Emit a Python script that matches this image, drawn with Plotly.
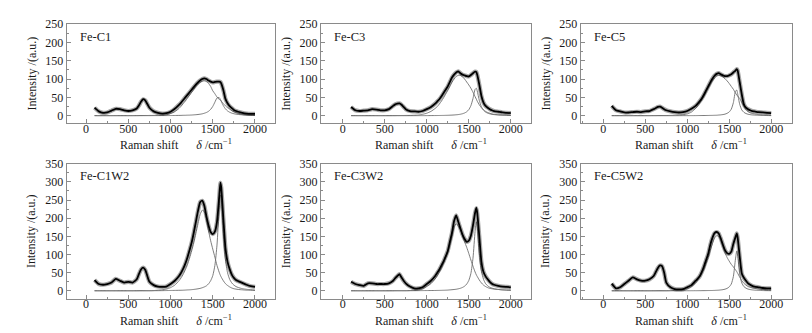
import plotly.graph_objects as go

# ---------------- data ----------------
raman_shift = [100, 150, 200, 250, 300, 350, 400, 450, 500, 550, 600,
               625, 650, 675, 700, 725, 750,
               800, 850, 900, 950, 1000, 1050, 1100,
               1125, 1150, 1175, 1200, 1225, 1250, 1275, 1300,
               1325, 1350, 1375, 1400, 1425, 1450, 1475, 1500,
               1525, 1550, 1575, 1590, 1600,
               1625, 1650, 1675, 1700, 1725, 1750, 1775, 1800,
               1850, 1900, 1950, 2000]

sample_names = ["Fe-C1", "Fe-C3", "Fe-C5", "Fe-C1W2", "Fe-C3W2", "Fe-C5W2"]

# measured spectra
fe_c1_spectrum = [22, 12, 8, 9, 14, 19, 18, 15, 13, 15, 20,
                  28, 38, 45, 42, 32, 22,
                  12, 8, 6, 7, 11, 19, 30,
                  36, 43, 50, 57, 64, 71, 78, 85,
                  91, 96, 100, 102, 100, 96, 93, 91,
                  92, 93, 93, 92, 88,
                  70, 46, 34, 26, 21, 16, 13, 11,
                  8, 6, 5, 5]
fe_c3_spectrum = [24, 15, 13, 14, 15, 18, 17, 15, 15, 18, 27,
                  31, 33, 34, 30, 24, 18,
                  13, 12, 11, 13, 18, 24, 33,
                  39, 45, 53, 62, 71, 80, 92, 104,
                  112, 118, 121, 116, 112, 110, 108, 107,
                  111, 116, 120, 119, 112,
                  85, 54, 36, 27, 22, 18, 15, 13,
                  11, 9, 8, 7]
fe_c5_spectrum = [27, 15, 12, 9, 9, 10, 11, 10, 12, 13, 18,
                  21, 24, 25, 22, 18, 15,
                  12, 10, 9, 10, 13, 19, 27,
                  33, 40, 48, 58, 69, 80, 91, 101,
                  109, 114, 116, 113, 110, 108, 108, 110,
                  113, 118, 123, 127, 124,
                  92, 58, 31, 22, 18, 15, 13, 12,
                  10, 9, 8, 7]
fe_c1w2_spectrum = [30, 19, 17, 19, 23, 33, 28, 23, 25, 23, 32,
                    46, 59, 64, 58, 41, 25,
                    16, 12, 11, 12, 19, 28, 41,
                    50, 61, 75, 92, 112, 133, 160, 190,
                    220, 244, 248, 234, 205, 180, 162, 156,
                    163, 190, 255, 298, 285,
                    200, 118, 80, 60, 45, 36, 30, 27,
                    22, 17, 13, 11]
fe_c3w2_spectrum = [25, 19, 16, 14, 21, 21, 19, 19, 19, 21, 28,
                    35, 41, 46, 37, 28, 21,
                    12, 7, 7, 10, 19, 28, 41,
                    50, 59, 70, 81, 95, 110, 135, 160,
                    192, 208, 190, 172, 155, 143, 135, 138,
                    152, 180, 215, 228, 215,
                    150, 80, 52, 40, 32, 25, 20, 17,
                    14, 12, 11, 10]
fe_c5w2_spectrum = [20, 7, 10, 19, 28, 37, 32, 28, 28, 32, 41,
                    52, 63, 70, 68, 50, 23,
                    10, 5, 4, 5, 10, 16, 28,
                    34, 41, 53, 68, 85, 102, 127, 146,
                    159, 162, 158, 144, 127, 112, 104, 102,
                    108, 130, 148, 158, 148,
                    95, 48, 36, 28, 21, 17, 14, 12,
                    10, 8, 7, 7]

# fitted D band components
fe_c1_d_fit = [0.5, 0.5, 0.5, 0.5, 0.5, 0.5, 0.5, 0.5, 0.5, 0.5, 0.6,
               0.6, 0.7, 0.7, 0.8, 0.8, 0.9,
               1, 1.5, 2, 3, 6, 11, 20,
               26, 33, 40, 48, 56, 64, 72, 80,
               86, 91, 94, 95, 93, 88, 80, 68,
               60, 51, 45, 43, 40,
               33, 27, 22, 18, 14, 11, 9, 7,
               5, 3, 2, 1.5]
fe_c3_d_fit = [0.5, 0.5, 0.5, 0.5, 0.5, 0.5, 0.5, 0.5, 0.5, 0.5, 0.6,
               0.6, 0.7, 0.7, 0.8, 0.8, 0.9,
               1, 1.5, 2, 4, 7, 12, 20,
               25, 32, 40, 49, 59, 69, 80, 91,
               100, 107, 110, 110, 106, 100, 92, 84,
               75, 64, 52, 45, 40,
               30, 22, 16, 12, 9, 7, 5, 4,
               3, 2, 1.5, 1]
fe_c5_d_fit = [0.5, 0.5, 0.5, 0.5, 0.5, 0.5, 0.5, 0.5, 0.5, 0.5, 0.6,
               0.6, 0.7, 0.7, 0.7, 0.7, 0.7,
               1, 1.5, 2, 3, 5, 10, 20,
               27, 35, 44, 53, 64, 75, 85, 95,
               103, 108, 110, 109, 106, 101, 95, 88,
               80, 72, 62, 57, 54,
               47, 36, 26, 17, 11, 8, 6, 5,
               3, 2, 1.5, 1]
fe_c1w2_d_fit = [0.5, 0.5, 0.5, 0.5, 0.5, 0.5, 0.5, 0.5, 0.5, 0.5, 0.6,
                 0.6, 0.7, 0.7, 0.7, 0.7, 0.7,
                 1, 2, 3, 5, 9, 16, 28,
                 36, 46, 58, 72, 90, 110, 132, 158,
                 185, 210, 222, 218, 195, 165, 138, 115,
                 93, 70, 52, 43, 38,
                 28, 20, 15, 11, 8, 6, 5, 4,
                 3, 2, 2, 1]
fe_c3w2_d_fit = [0.5, 0.5, 0.5, 0.5, 0.5, 0.5, 0.5, 0.5, 0.5, 0.5, 0.6,
                 0.6, 0.7, 0.7, 0.7, 0.7, 0.7,
                 1, 2, 3, 6, 12, 20, 33,
                 42, 52, 63, 76, 90, 105, 125, 150,
                 175, 185, 178, 168, 152, 135, 120, 103,
                 85, 68, 52, 44, 40,
                 30, 22, 16, 12, 9, 7, 6, 5,
                 4, 3, 2.5, 2]
fe_c5w2_d_fit = [0.5, 0.5, 0.5, 0.5, 0.5, 0.5, 0.5, 0.5, 0.5, 0.5, 0.6,
                 0.6, 0.7, 0.7, 0.7, 0.7, 0.7,
                 1, 1.5, 2, 3, 6, 12, 22,
                 30, 38, 48, 60, 76, 92, 112, 130,
                 145, 152, 150, 138, 122, 105, 92, 82,
                 73, 66, 58, 53, 49,
                 38, 28, 21, 16, 12, 10, 8, 7,
                 5, 4, 3, 3]

# fitted G band components
fe_c1_g_fit = [0.3, 0.3, 0.3, 0.3, 0.3, 0.3, 0.3, 0.3, 0.3, 0.3, 0.3,
               0.4, 0.4, 0.4, 0.4, 0.4, 0.4,
               0.5, 0.5, 0.6, 0.6, 0.7, 0.8, 1.0,
               1.1, 1.3, 1.4, 1.6, 1.8, 2.1, 2.5, 2.9,
               3.5, 4.3, 5.3, 6.9, 9, 12.3, 17.5, 25.5,
               37, 48.4, 49.8, 44.4, 39.5,
               27.5, 18.8, 13.2, 9.6, 7.2, 5.6, 4.5, 3.6,
               2.5, 1.8, 1.4, 1.1]
fe_c3_g_fit = [0.3, 0.3, 0.3, 0.3, 0.3, 0.3, 0.3, 0.3, 0.3, 0.3, 0.3,
               0.3, 0.3, 0.3, 0.3, 0.3, 0.3,
               0.35, 0.35, 0.4, 0.4, 0.45, 0.55, 0.65,
               0.7, 0.8, 0.9, 1.0, 1.2, 1.35, 1.6, 1.85,
               2.2, 2.7, 3.3, 4.2, 5.6, 7.6, 10.9, 16.6,
               27.4, 47, 72, 75, 68,
               42, 24.6, 15.2, 10, 7.1, 5.3, 4, 3.2,
               2.1, 1.5, 1.1, 0.9]
fe_c5_g_fit = [0.3, 0.3, 0.3, 0.3, 0.3, 0.3, 0.3, 0.3, 0.3, 0.3, 0.3,
               0.3, 0.3, 0.3, 0.3, 0.3, 0.3,
               0.3, 0.3, 0.35, 0.4, 0.4, 0.45, 0.5,
               0.6, 0.65, 0.7, 0.75, 0.8, 0.9, 1.0, 1.1,
               1.3, 1.5, 2.0, 2.5, 3.3, 4.5, 6.7, 10.4,
               18, 36, 67, 70, 61,
               31.5, 16, 9.5, 6.1, 4.2, 3.1, 2.3, 1.9,
               1.3, 0.9, 0.7, 0.5]
fe_c1w2_g_fit = [0.4, 0.4, 0.4, 0.4, 0.4, 0.4, 0.4, 0.4, 0.4, 0.4, 0.4,
                 0.5, 0.5, 0.5, 0.5, 0.5, 0.5,
                 0.6, 0.7, 0.8, 1.0, 1.2, 1.4, 1.7,
                 1.8, 2.0, 2.3, 2.7, 3.0, 3.5, 4.1, 4.9,
                 5.8, 7, 8.7, 11, 14, 19.5, 28, 42,
                 70, 126, 224, 264, 255,
                 158, 85, 50, 32, 22, 16, 12, 9.5,
                 6.2, 4.4, 3.2, 2.5]
fe_c3w2_g_fit = [0.4, 0.4, 0.4, 0.4, 0.4, 0.4, 0.4, 0.4, 0.4, 0.4, 0.4,
                 0.5, 0.5, 0.5, 0.5, 0.5, 0.5,
                 0.6, 0.7, 0.8, 0.9, 1.0, 1.1, 1.2,
                 1.3, 1.4, 1.6, 1.8, 2.0, 2.3, 2.8, 3.3,
                 3.9, 4.6, 5.8, 7.3, 9.6, 13, 18.7, 28.7,
                 48, 90, 164, 190, 178,
                 103, 54, 32, 20, 14, 10, 7.7, 6,
                 4, 2.8, 2, 1.6]
fe_c5w2_g_fit = [0.3, 0.3, 0.3, 0.3, 0.3, 0.3, 0.3, 0.3, 0.3, 0.3, 0.3,
                 0.3, 0.3, 0.3, 0.3, 0.3, 0.3,
                 0.35, 0.4, 0.4, 0.45, 0.5, 0.55, 0.6,
                 0.65, 0.7, 0.75, 0.8, 0.9, 1.0, 1.1, 1.2,
                 1.4, 1.7, 2.1, 2.7, 3.5, 4.8, 7, 11,
                 19, 40, 88, 110, 99,
                 47, 22, 12, 7.6, 5, 3.7, 2.8, 2.2,
                 1.4, 1.0, 0.8, 0.6]

x_tick_values = [0, 500, 1000, 1500, 2000]
y_ticks_top = [0, 50, 100, 150, 200, 250]
y_ticks_bottom = [0, 50, 100, 150, 200, 250, 300, 350]

spectra = [fe_c1_spectrum, fe_c3_spectrum, fe_c5_spectrum,
           fe_c1w2_spectrum, fe_c3w2_spectrum, fe_c5w2_spectrum]
d_fits = [fe_c1_d_fit, fe_c3_d_fit, fe_c5_d_fit,
          fe_c1w2_d_fit, fe_c3w2_d_fit, fe_c5w2_d_fit]
g_fits = [fe_c1_g_fit, fe_c3_g_fit, fe_c5_g_fit,
          fe_c1w2_g_fit, fe_c3w2_g_fit, fe_c5w2_g_fit]

for arr in spectra + d_fits + g_fits:
    assert len(arr) == len(raman_shift), len(arr)

# ---------------- layout geometry ----------------
W, H = 812, 333
col_px = [(66.7, 275.0), (321.0, 531.0), (580.7, 791.7)]
row_px = [(17.3, 119.0), (160.0, 298.3)]
x_ranges = [[-230, 2237], [-258, 2240], [-270, 2245]]
y_ranges = [[-21, 250], [-22.3, 350]]

FONT = "Liberation Serif, Times New Roman, serif"
AXIS_COLOR = "#8a8a8a"
TEXT_COLOR = "#1a1a1a"

fig = go.Figure()
layout = dict(
    width=W, height=H, autosize=False,
    margin=dict(l=0, r=0, t=0, b=0, pad=0),
    paper_bgcolor="white", plot_bgcolor="white",
    showlegend=False,
    font=dict(family=FONT, size=12, color=TEXT_COLOR),
)
annotations = []

for i in range(6):
    r, c = divmod(i, 3)
    n = i + 1
    xa = "x" if n == 1 else f"x{n}"
    ya = "y" if n == 1 else f"y{n}"
    x0, x1 = col_px[c]
    y0, y1 = row_px[r]

    # fitted components (thin grey)
    for comp in (d_fits[i], g_fits[i]):
        fig.add_trace(go.Scatter(
            x=raman_shift, y=comp, mode="lines", xaxis=xa, yaxis=ya,
            line=dict(color="#6e6e6e", width=0.9, shape="spline", smoothing=0.6),
            hoverinfo="skip"))
    # noisy measured spectrum: soft halo + black core
    fig.add_trace(go.Scatter(
        x=raman_shift, y=spectra[i], mode="lines", xaxis=xa, yaxis=ya,
        line=dict(color="rgba(0,0,0,0.35)", width=4.2, shape="spline", smoothing=0.5),
        hoverinfo="skip"))
    fig.add_trace(go.Scatter(
        x=raman_shift, y=spectra[i], mode="lines", xaxis=xa, yaxis=ya,
        line=dict(color="black", width=1.8, shape="spline", smoothing=0.5),
        name=sample_names[i]))

    xkey = "xaxis" if n == 1 else f"xaxis{n}"
    ykey = "yaxis" if n == 1 else f"yaxis{n}"
    layout[xkey] = dict(
        domain=[x0 / W, x1 / W], range=x_ranges[c], anchor=ya,
        tickmode="array", tickvals=x_tick_values,
        ticks="inside", ticklen=4, tickwidth=1, tickcolor=AXIS_COLOR,
        ticklabelstandoff=-6,
        minor=dict(dtick=250, tick0=0, ticks="inside", ticklen=2, tickcolor=AXIS_COLOR),
        showline=True, linecolor=AXIS_COLOR, linewidth=1, mirror=True,
        showgrid=False, zeroline=False,
        tickfont=dict(family=FONT, size=12, color=TEXT_COLOR),
    )
    layout[ykey] = dict(
        domain=[1 - y1 / H, 1 - y0 / H], range=y_ranges[r], anchor=xa,
        tickmode="array", tickvals=y_ticks_top if r == 0 else y_ticks_bottom,
        ticks="inside", ticklen=4, tickwidth=1, tickcolor=AXIS_COLOR,
        minor=dict(dtick=25, tick0=0, ticks="inside", ticklen=2, tickcolor=AXIS_COLOR),
        showline=True, linecolor=AXIS_COLOR, linewidth=1, mirror=True,
        showgrid=False, zeroline=False,
        tickfont=dict(family=FONT, size=12, color=TEXT_COLOR),
    )

    # sample label
    annotations.append(dict(
        text=sample_names[i], xref="paper", yref="paper",
        x=(x0 + 11) / W, y=1 - (y0 + 13) / H, xanchor="left", yanchor="middle",
        showarrow=False, font=dict(family=FONT, size=12.5, color=TEXT_COLOR)))
    # x-axis title
    annotations.append(dict(
        text="Raman shift" + "\u00a0" * 6 + "<i>δ</i> /cm<sup>−1</sup>",
        xref="paper", yref="paper",
        x=((x0 + x1) / 2 + 5) / W, y=1 - (y1 + 21.5) / H,
        xanchor="center", yanchor="middle", showarrow=False,
        font=dict(family=FONT, size=12, color=TEXT_COLOR)))
    # y-axis title
    annotations.append(dict(
        text="Intensity /(a.u.)", textangle=-90,
        xref="paper", yref="paper",
        x=(x0 - 35) / W, y=1 - ((y0 + y1) / 2) / H,
        xanchor="center", yanchor="middle", showarrow=False,
        font=dict(family=FONT, size=12, color=TEXT_COLOR)))

layout["annotations"] = annotations
fig.update_layout(**layout)
fig.write_html(
    "out.html",
    config={"displayModeBar": False},
    post_script="document.body.style.margin='0';document.body.style.padding='0';"
                "document.documentElement.style.margin='0';",
)
